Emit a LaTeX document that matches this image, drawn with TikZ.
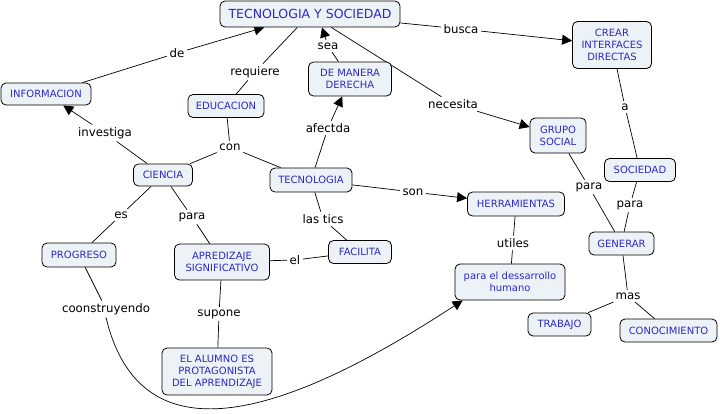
\documentclass[tikz,border=0pt]{standalone}
\usepackage{fontspec}
\setmainfont{DejaVu Sans}
\usetikzlibrary{arrows.meta,backgrounds}
\definecolor{cfill}{HTML}{EDF2F7}
\definecolor{ctext}{HTML}{2A2ACC}
\tikzset{
  concept/.style={draw=black, line width=0.8pt, rounded corners=5pt, fill=cfill, text=ctext,
    font=\fontsize{10}{12}\selectfont, align=center, inner sep=1pt},
  lbl/.style={font=\fontsize{11.8}{13}\selectfont, inner sep=2.5pt, text=black},
  conn/.style={line width=0.7pt, draw=black},
  arr/.style={conn, -{Triangle[length=10pt,width=10pt]}},
}
\begin{document}
\begin{tikzpicture}[x=1pt,y=-1pt]
\useasboundingbox (0,0) rectangle (720,413);
% concepts
\node[concept, minimum width=180, minimum height=26, font=\fontsize{12.5}{14}\selectfont] (tys) at (310,14) {TECNOLOGIA Y SOCIEDAD};
\node[concept, minimum width=90, minimum height=22] (info) at (46,94) {INFORMACION};
\node[concept, minimum width=76, minimum height=23] (edu) at (226,106) {EDUCACION};
\node[concept, minimum width=83, minimum height=34] (dmd) at (350,79) {DE MANERA\\DERECHA};
\node[concept, minimum width=79, minimum height=47] (crear) at (612,45) {CREAR\\INTERFACES\\DIRECTAS};
\node[concept, minimum width=56, minimum height=35] (grupo) at (558,135.5) {GRUPO\\SOCIAL};
\node[concept, minimum width=59, minimum height=22] (ciencia) at (163,175) {CIENCIA};
\node[concept, minimum width=82, minimum height=24] (tec) at (311,180) {TECNOLOGIA};
\node[concept, minimum width=71, minimum height=23] (soc) at (640,170) {SOCIEDAD};
\node[concept, minimum width=97, minimum height=24] (herr) at (516,204) {HERRAMIENTAS};
\node[concept, minimum width=65, minimum height=23] (gen) at (621.5,243.5) {GENERAR};
\node[concept, minimum width=74, minimum height=24] (prog) at (79,255) {PROGRESO};
\node[concept, minimum width=95, minimum height=36] (apr) at (222,262) {APREDIZAJE\\SIGNIFICATIVO};
\node[concept, minimum width=63, minimum height=23] (fac) at (360,252) {FACILITA};
\node[concept, minimum width=110, minimum height=36] (hum) at (510,282) {para el dessarrollo\\humano};
\node[concept, minimum width=63, minimum height=23] (trab) at (559.5,324.5) {TRABAJO};
\node[concept, minimum width=97, minimum height=23] (cono) at (668.5,330.5) {CONOCIMIENTO};
\node[concept, minimum width=110, minimum height=47] (alum) at (217,371.5) {EL ALUMNO ES\\PROTAGONISTA\\DEL APRENDIZAJE};
% link labels
\node[lbl] (lde) at (177,53) {de};
\node[lbl] (lreq) at (255,72) {requiere};
\node[lbl] (lsea) at (328,46) {sea};
\node[lbl] (lbus) at (461,29) {busca};
\node[lbl] (lnec) at (453,104) {necesita};
\node[lbl] (la) at (625,107) {a};
\node[lbl] (linv) at (105,133) {investiga};
\node[lbl] (lcon) at (230,147) {con};
\node[lbl] (lafe) at (328,128) {afectda};
\node[lbl] (lson) at (413,192) {son};
\node[lbl] (lpg) at (589,187) {para};
\node[lbl] (lps) at (630,205) {para};
\node[lbl] (les) at (121,215) {es};
\node[lbl] (lpc) at (192,217) {para};
\node[lbl] (ltic) at (323,219) {las tics};
\node[lbl] (lut) at (513,243) {utiles};
\node[lbl] (lel) at (295,260) {el};
\node[lbl] (lmas) at (628,296) {mas};
\node[lbl] (lcoo) at (106,309) {coonstruyendo};
\node[lbl] (lsup) at (219,314) {supone};
% connectors
\begin{scope}[on background layer]
\draw[conn] (info) -- (lde);
\draw[arr] (lde) -- (tys);
\draw[conn] (tys) -- (lreq);
\draw[conn] (lreq) -- (edu);
\draw[conn] (dmd) -- (lsea);
\draw[arr] (lsea) -- ([xshift=-6pt]tys.south -| lsea);
\draw[conn] (tys) -- (lbus);
\draw[arr] (lbus) -- (crear);
\draw[conn] (tys) -- (lnec);
\draw[arr] (lnec) -- (grupo);
\draw[conn] (crear) -- (la);
\draw[conn] (la) -- (soc);
\draw[conn] (ciencia) -- (linv);
\draw[arr] (linv) -- (info);
\draw[conn] (edu) -- (lcon);
\draw[conn] (ciencia) -- (lcon);
\draw[conn] (lcon) -- (tec);
\draw[conn] (tec) -- (lafe);
\draw[arr] (lafe) -- (dmd);
\draw[conn] (tec) -- (lson);
\draw[arr] (lson) -- (herr);
\draw[conn] (grupo) -- (lpg);
\draw[conn] (lpg) -- (gen);
\draw[conn] (soc) -- (lps);
\draw[conn] (lps) -- (gen);
\draw[conn] (ciencia) -- (les);
\draw[conn] (les) -- (prog);
\draw[conn] (ciencia) -- (lpc);
\draw[conn] (lpc) -- (apr);
\draw[conn] (tec) -- (ltic);
\draw[conn] (ltic) -- (fac);
\draw[conn] (fac) -- (lel);
\draw[conn] (lel) -- (apr);
\draw[conn] (herr) -- (lut);
\draw[conn] (lut) -- (hum);
\draw[conn] (gen) -- (lmas);
\draw[conn] (lmas) -- (trab);
\draw[conn] (lmas) -- (cono);
\draw[conn] (apr) -- (lsup);
\draw[conn] (lsup) -- (alum);
\draw[conn] (prog) -- (lcoo);
\draw[arr] (lcoo.south) .. controls (140,460) and (280,420) .. ([xshift=8pt]hum.south west);
\end{scope}
\end{tikzpicture}
\end{document}
